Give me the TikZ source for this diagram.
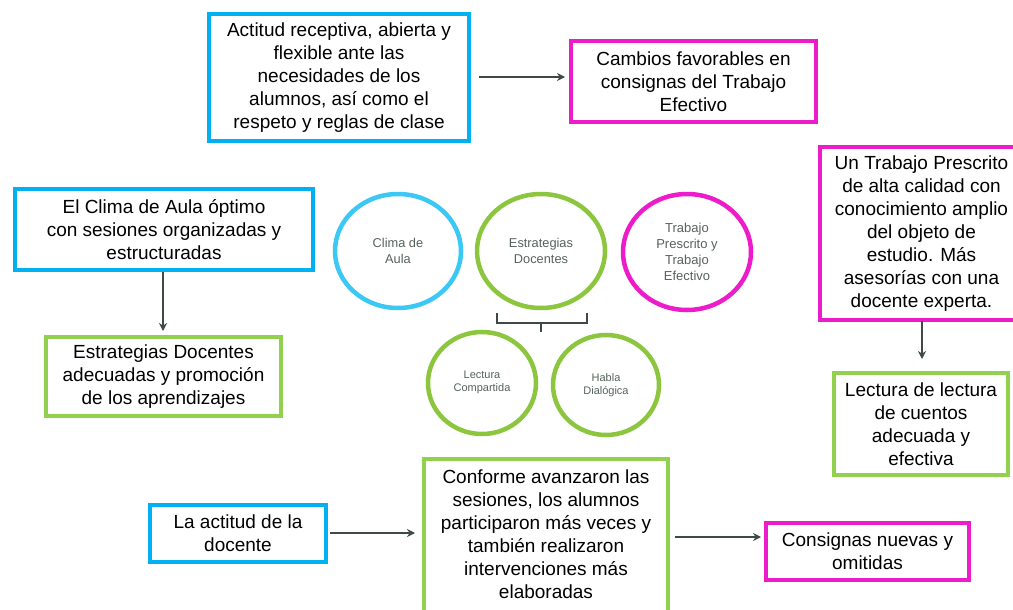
\documentclass[tikz,border=0pt]{standalone}
\usepackage{fontspec}
\setmainfont{Liberation Sans}
\usetikzlibrary{arrows.meta,calc}
\definecolor{cblue}{HTML}{00B0F0}
\definecolor{cmag}{HTML}{EC1CCB}
\definecolor{cgreen}{HTML}{92D050}
\definecolor{lblue}{HTML}{3CC8F5}
\definecolor{lgreen}{HTML}{8CC63F}
\definecolor{arr}{HTML}{3D4A45}
\definecolor{ctext}{HTML}{55635B}
\tikzset{
  box/.style={draw, line width=4pt, fill=white, align=center, inner sep=0pt,
    font=\fontsize{19}{23}\selectfont, text=black},
  bluebox/.style={box, draw=cblue},
  magbox/.style={box, draw=cmag},
  greenbox/.style={box, draw=cgreen},
  ctxt/.style={font=\fontsize{12.8}{15.5}\selectfont, text=ctext, align=center},
  stxt/.style={font=\fontsize{11}{12.8}\selectfont, text=ctext, align=center},
  ring/.style={line width=4.5pt},
  conn/.style={draw=arr, line width=1.3pt, -{Stealth[length=8pt,width=8pt]}},
}
\begin{document}
\begin{tikzpicture}[x=1pt,y=-1pt]
\useasboundingbox (0,0) rectangle (1013,610);
\clip (0,0) rectangle (1013,610);
\fill[white] (0,0) rectangle (1013,610);

% top row
\node[bluebox, minimum width=260pt, minimum height=127pt] (b1) at (339,77.5)
  {Actitud receptiva, abierta y\\flexible ante las\\necesidades de los\\alumnos, así como el\\respeto y reglas de clase};
\node[magbox, minimum width=245pt, minimum height=81pt] (m1) at (693.5,81.5)
  {Cambios favorables en\\consignas del Trabajo\\Efectivo};
\draw[conn, shorten <=8pt, shorten >=4pt] (b1.east |- 0,77) -- (m1.west |- 0,77);

% left column
\node[bluebox, minimum width=298pt, minimum height=81pt] (b2) at (164,229.5)
  {El Clima de Aula óptimo\\con sesiones organizadas y\\estructuradas};
\node[greenbox, minimum width=235pt, minimum height=79pt] (g2) at (163.5,376.5)
  {Estrategias Docentes\\adecuadas y promoción\\de los aprendizajes};
\draw[conn, shorten >=4pt] (b2.south -| 163,0) -- (g2.north -| 163,0);

% circles
\draw[lblue, ring] (398,251) ellipse (63pt and 57pt);
\node[ctxt] (c1) at (398,251) {Clima de\\Aula};
\draw[lgreen, ring] (541,251) ellipse (64pt and 57pt);
\node[ctxt] (c2) at (541,251) {Estrategias\\Docentes};
\draw[cmag, ring] (687,252) ellipse (64pt and 58pt);
\node[ctxt, font=\fontsize{13}{16}\selectfont] (c3) at (687,252) {Trabajo\\Prescrito y\\Trabajo\\Efectivo};
\draw[lgreen, ring] (482,383) ellipse (54pt and 51pt);
\node[stxt] (c4) at (482,382) {Lectura\\Compartida};
\draw[lgreen, ring] (606,385) ellipse (53pt and 50pt);
\node[stxt] (c5) at (606,385) {Habla\\Dialógica};

% bracket
\coordinate (bl) at (497,313);
\coordinate (br) at (587,313);
\coordinate (bm) at (541,323);
\coordinate (bt) at (541,332);
\draw[arr, line width=2pt] (bl) -- (bl |- bm) -- (br |- bm) -- (br);
\draw[arr, line width=2pt] (bm) -- (bt);

% right column
\node[magbox, minimum width=203pt, minimum height=173pt] (m2) at (921.5,233.5)
  {Un Trabajo Prescrito\\de alta calidad con\\conocimiento amplio\\del objeto de\\estudio. Más\\asesorías con una\\docente experta.};
\node[greenbox, minimum width=174pt, minimum height=102pt] (g3) at (921,424)
  {Lectura de lectura\\de cuentos\\adecuada y\\efectiva};
\draw[conn, shorten <=-1pt, shorten >=12pt] (m2.south -| 922,0) -- (g3.north -| 922,0);

% bottom row
\node[bluebox, minimum width=176pt, minimum height=57pt] (b3) at (238,533.5)
  {La actitud de la\\docente};
\node[box, draw=none, minimum width=244pt, minimum height=150pt] (g4) at (546,534)
  {Conforme avanzaron las\\sesiones, los alumnos\\participaron más veces y\\también realizaron\\intervenciones más\\elaboradas};
\draw[cgreen, line width=4pt] ($(g4.north west)+(2,2)$) rectangle ($(g4.south east)+(-2,14)$);
\node[magbox, minimum width=203pt, minimum height=57pt] (m3) at (867.5,551.5)
  {Consignas nuevas y\\omitidas};
\draw[conn, shorten <=2pt, shorten >=7pt] (b3.east |- 0,533) -- (g4.west |- 0,533);
\draw[conn, shorten <=5pt, shorten >=3pt] (g4.east |- 0,537) -- (m3.west |- 0,537);
\end{tikzpicture}
\end{document}
